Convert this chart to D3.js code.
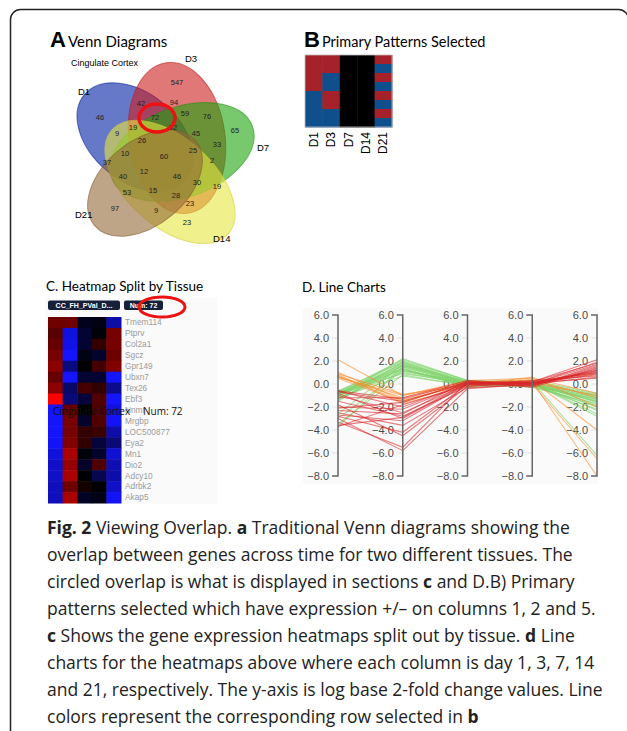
<!DOCTYPE html>
<html>
<head>
<meta charset="utf-8">
<script src="https://cdn.jsdelivr.net/npm/d3@7"></script>
<style>
  body { margin: 0; background: #fff; }
  svg { display: block; }
</style>
</head>
<body>
<svg id="fig" width="627" height="731"></svg>
<script>
// ---- data ----
let days = ["D1", "D3", "D7", "D14", "D21"]
let vennCounts = [547, 42, 94, 72, 59, 76, 65, 46, 9, 19, 52, 45, 33, 26, 10, 60, 25, 2, 37, 12, 46, 30, 19, 40, 53, 15, 28, 23, 97, 9, 23]
// 1 = up, -1 = down, 0 = not used
let patternRows = [
  [1, 1, 0, 0, 1], [1, 1, 0, 0, -1], [1, -1, 0, 0, 1], [1, -1, 0, 0, -1],
  [-1, 1, 0, 0, 1], [-1, 1, 0, 0, -1], [-1, -1, 0, 0, 1], [-1, -1, 0, 0, -1]
]
let genes = ["Tmem114", "Ptprv", "Col2a1", "Sgcz", "Gpr149", "Ubxn7", "Tex26", "Ebf3", "Nnmt", "Mrgbp",
  "LOC500877", "Eya2", "Mn1", "Dio2", "Adcy10", "Adrbk2", "Akap5"]
let heatValues = [
  [1.3, 1.3, -0.3, -0.25, -2.0],
  [1.05, -2.6, -0.6, -0.1, 1.4],
  [1.2, -2.7, -0.6, 0.6, 1.4],
  [1.4, -3.0, -0.25, -0.5, 1.3],
  [1.65, -1.5, 0, 0.8, 1.5],
  [1.2, -3.0, -0.6, -0.6, -3.0],
  [1.65, -1.2, 0.8, 0.6, -1.65],
  [3.0, -1.4, -0.7, 0.95, -3.0],
  [-3.0, 1.2, 0, 0.9, -2.6],
  [-3.0, 1.4, -0.5, 0.95, -2.9],
  [-3.0, 1.4, 0.6, 0.7, -2.0],
  [-2.9, 1.5, 0.6, -0.7, -1.4],
  [-2.6, 2.0, -0.1, -0.5, -2.5],
  [-2.35, 1.75, -0.5, 0.95, -2.1],
  [-2.35, 2.0, 0, -0.95, -2.0],
  [-2.2, 1.3, 0.25, 0, -2.35],
  [-2.2, 2.0, -0.45, -0.25, -2.9]
]
let greenLines = [
  [-0.6, 1.9, 0.2, 0.1, -1.0], [-0.7, 2.1, 0.3, 0.0, -1.2], [-0.8, 1.7, 0.1, -0.1, -1.5],
  [-0.9, 1.5, 0.0, 0.2, -0.9], [-1.0, 1.3, -0.1, 0.1, -1.8], [-1.1, 1.8, 0.2, -0.2, -1.3],
  [-1.2, 1.0, 0.0, 0.0, -2.0], [-0.7, 1.2, -0.2, 0.1, -1.6], [-0.9, 2.0, 0.3, 0.2, -1.1],
  [-1.3, 1.6, 0.1, -0.1, -2.2], [-1.4, 1.4, -0.3, 0.0, -1.4], [-0.8, 0.9, 0.1, 0.3, -0.8],
  [-1.0, 1.1, 0.2, -0.3, -1.7], [-1.5, 1.9, 0.0, 0.1, -2.6], [-0.6, 1.3, -0.1, -0.2, -1.9],
  [-2.6, 1.7, 0.2, 0.0, -1.2], [-3.0, 1.2, 0.1, 0.1, -2.8], [-3.5, 0.8, -0.2, -0.1, -1.5],
  [-3.7, 1.5, 0.0, 0.2, -6.2], [-1.1, 2.2, 0.3, 0.0, -1.0], [-1.2, 0.7, -0.1, 0.1, -2.3],
  [-0.9, 1.6, 0.1, -0.1, -1.3]
]
let redLines = [
  [-0.6, -1.3, 0.2, 0.0, 1.2], [-0.7, -1.5, 0.1, 0.1, 0.8], [-1.0, -2.5, 0.0, -0.2, 1.5],
  [-1.5, -2.8, -0.2, 0.1, 1.0], [-2.0, -2.2, 0.1, 0.2, 1.8], [-2.3, -2.6, 0.3, 0.0, 0.6],
  [-2.5, -3.6, -0.3, -0.1, 1.3], [-2.8, -4.2, 0.0, 0.2, 2.1], [-3.0, -5.8, -0.4, 0.0, 0.9],
  [-3.3, -5.5, 0.2, -0.2, 1.6], [-3.6, -2.9, 0.1, 0.1, 1.1], [-3.7, -1.8, -0.1, 0.3, 0.7],
  [-1.2, -1.2, 0.3, -0.3, 1.4], [-0.8, -3.0, 0.0, 0.0, 1.9], [-1.8, -4.5, -0.2, 0.1, 0.5],
  [-2.1, -1.6, 0.2, -0.1, 1.2], [-0.6, -2.0, 0.1, 0.2, 1.0], [-2.7, -3.2, 0.0, 0.0, 1.7]
]
let orangeLines = [
  [2.1, -1.0, 0.3, 0.5, -0.8], [1.0, -1.4, 0.0, 0.3, -4.0], [0.8, -1.7, -0.2, 0.2, -8.0],
  [0.6, -1.2, 0.1, 0.4, -1.2], [0.5, -1.6, 0.2, 0.0, -6.5], [0.9, -0.9, -0.1, 0.6, -2.0],
  [0.7, -1.5, 0.0, 0.1, -1.0], [0.6, -1.0, 0.2, 0.3, 0.9]
]
let yTicks = [-8, -6, -4, -2, 0, 2, 4, 6]

// ---- venn layout (offsets from the venn centre) ----
let vennShapes = [
  { set: "D1", dx: -29, dy: -18, rx: 66, ry: 44, rot: 40, fill: "#001ea3" },
  { set: "D3", dx: 13, dy: -17, rx: 76, ry: 48, rot: 82, fill: "#cd1e1e" },
  { set: "D7", dx: 18, dy: -3, rx: 75, ry: 45, rot: -20, fill: "#1ea30d" },
  { set: "D14", dx: 6, dy: 27, rx: 78, ry: 44, rot: 42, fill: "#e6e63f" },
  { set: "D21", dx: -19, dy: 28, rx: 66, ry: 42, rot: -40, fill: "#936937" }
]
let vennSetLabelPos = [[-86, -60], [21, -93], [93, -4], [49, 87], [-89, 63]]
let vennCountPos = [[13, -73], [-23, -52], [10, -53], [-9, -38], [21, -42], [43, -39], [71, -25], [-64, -38],
  [-47, -22], [-31, -28], [9, -28], [32, -22], [53, -11], [-22, -15], [-39, -2], [0, 1], [29, -5], [48, 5],
  [-57, 7], [-20, 16], [13, 21], [33, 27], [53, 31], [-41, 21], [-37, 37], [-11, 35], [12, 40], [26, 48],
  [-49, 53], [-8, 55], [23, 67]]

let svg = d3.select("#fig")

// outer frame
svg.append("rect")
  .attr("x", 10.5).attr("y", 9.5).attr("width", 618).attr("height", 760).attr("rx", 10)
  .attr("fill", "none").attr("stroke", "#222").attr("stroke-width", 1.5)

// ---- A: venn ----
let vx = d3.scaleLinear().domain([-100, 100]).range([64, 264])
let vy = d3.scaleLinear().domain([-100, 100]).range([55, 255])

svg.append("text").attr("x", 50).attr("y", 47)
  .style("font", "bold 22px 'Liberation Sans', Arial").text("A")
svg.append("text").attr("x", 68).attr("y", 47)
  .style("font", "15px Lato, 'Open Sans', sans-serif").text("Venn Diagrams")
svg.append("text").attr("x", 71).attr("y", 66)
  .style("font", "9px 'Liberation Sans', Arial").text("Cingulate Cortex")

let venn = svg.append("g")
venn.selectAll("ellipse.set")
  .data(vennShapes)
  .join("ellipse")
  .attr("class", "set")
  .attr("rx", d => d.rx).attr("ry", d => d.ry)
  .attr("transform", d => `translate(${vx(d.dx)},${vy(d.dy)}) rotate(${d.rot})`)
  .attr("fill", d => d.fill).attr("fill-opacity", 0.6)
  .attr("stroke", d => d3.color(d.fill).darker(0.3)).attr("stroke-opacity", 0.6)

venn.selectAll("text.count")
  .data(vennCounts)
  .join("text")
  .attr("class", "count")
  .attr("x", (d, i) => vx(vennCountPos[i][0]))
  .attr("y", (d, i) => vy(vennCountPos[i][1]))
  .attr("text-anchor", "middle").attr("dy", "0.35em")
  .style("font", "7.5px 'Liberation Sans', Arial").attr("fill", "#222")
  .text(d => d)

venn.selectAll("text.setlab")
  .data(days)
  .join("text")
  .attr("class", "setlab")
  .attr("x", (d, i) => vx(vennSetLabelPos[i][0]))
  .attr("y", (d, i) => vy(vennSetLabelPos[i][1]))
  .style("font", "9.5px 'Liberation Sans', Arial")
  .text(d => d)

venn.append("ellipse")
  .attr("cx", vx(-7)).attr("cy", vy(-37)).attr("rx", 18).attr("ry", 14)
  .attr("fill", "none").attr("stroke", "#ee1111").attr("stroke-width", 3.5)

// ---- B: patterns ----
svg.append("text").attr("x", 304).attr("y", 47)
  .style("font", "bold 22px 'Liberation Sans', Arial").text("B")
svg.append("text").attr("x", 322).attr("y", 47)
  .style("font", "14.5px Lato, 'Open Sans', sans-serif").text("Primary Patterns Selected")

let bx = d3.scaleBand().domain(days).range([305, 392])
let by = d3.scaleBand().domain(d3.range(patternRows.length)).range([55, 127])
let patColor = v => v > 0 ? "#a5222a" : v < 0 ? "#0f4f8c" : "#000000"

let gB = svg.append("g")
patternRows.forEach((row, r) => {
  gB.selectAll("rect.r" + r)
    .data(row)
    .join("rect")
    .attr("class", "r" + r)
    .attr("x", (d, i) => bx(days[i]))
    .attr("y", by(r))
    .attr("width", bx.bandwidth() + 0.5)
    .attr("height", by.bandwidth() + 0.5)
    .attr("fill", d => patColor(d))
})
gB.append("rect").attr("x", 305).attr("y", 55).attr("width", 87).attr("height", 72)
  .attr("fill", "none").attr("stroke", "#bbb").attr("stroke-width", 0.8)
gB.selectAll("text.daylab")
  .data(days)
  .join("text")
  .attr("class", "daylab")
  .attr("transform", d => `translate(${bx(d) + bx.bandwidth() / 2 + 4},132) rotate(-90)`)
  .attr("text-anchor", "end")
  .style("font", "12px 'Liberation Sans', Arial")
  .text(d => d)

// ---- C: heatmap ----
svg.append("text").attr("x", 46).attr("y", 291)
  .style("font", "13.5px Lato, 'Open Sans', sans-serif").text("C. Heatmap Split by Tissue")

svg.append("rect").attr("x", 45).attr("y", 298).attr("width", 172).attr("height", 206).attr("fill", "#fafafa")

let hx = d3.scaleBand().domain(days).range([48, 121])
let hy = d3.scaleBand().domain(genes).range([317, 503])
let heatColor = d3.scaleLinear().domain([-3, 0, 3]).range(["#1414ff", "#000000", "#ff0000"]).clamp(true)

let gC = svg.append("g")
heatValues.forEach((row, r) => {
  gC.selectAll("rect.h" + r)
    .data(row)
    .join("rect")
    .attr("class", "h" + r)
    .attr("x", (d, i) => hx(days[i]))
    .attr("y", hy(genes[r]))
    .attr("width", hx.bandwidth() + 0.5)
    .attr("height", hy.bandwidth() + 0.5)
    .attr("fill", d => heatColor(d))
})
gC.selectAll("text.gene")
  .data(genes)
  .join("text")
  .attr("class", "gene")
  .attr("x", 125)
  .attr("y", d => hy(d) + hy.bandwidth() / 2)
  .attr("dy", "0.35em")
  .attr("fill", "#9a9a9a")
  .style("font", "8.3px 'Liberation Sans', Arial")
  .text(d => d)

let headers = [["CC_FH_PVal_D...", 48, 72], ["Num: 72", 124, 39]]
headers.forEach(h => {
  gC.append("rect").attr("x", h[1]).attr("y", 300.5).attr("width", h[2]).attr("height", 9.5)
    .attr("rx", 2).attr("fill", "#17203a")
  gC.append("text").attr("x", h[1] + h[2] / 2).attr("y", 305.5).attr("dy", "0.35em")
    .attr("text-anchor", "middle").attr("fill", "#fff")
    .style("font", "bold 7px 'Liberation Sans', Arial").text(h[0])
})
gC.append("ellipse").attr("cx", 162).attr("cy", 307).attr("rx", 23).attr("ry", 10)
  .attr("fill", "none").attr("stroke", "#ee1111").attr("stroke-width", 3)

// overlay label that sits on top of the heatmap in the original
svg.append("text").attr("x", 53).attr("y", 415)
  .style("font", "10px 'Open Sans', sans-serif").attr("fill", "#111").text("Cingulate Cortex")
svg.append("text").attr("x", 143).attr("y", 415)
  .style("font", "10px 'Open Sans', sans-serif").attr("fill", "#111").text("Num: 72")

// ---- D: line charts ----
svg.append("text").attr("x", 302).attr("y", 292)
  .style("font", "13.5px Lato, 'Open Sans', sans-serif").text("D. Line Charts")

svg.append("rect").attr("x", 303).attr("y", 308).attr("width", 296).attr("height", 176).attr("fill", "#fafafa")

let lx = d3.scalePoint().domain(days).range([338, 597])
let ly = d3.scaleLinear().domain([-8, 6]).range([476, 315])

let gD = svg.append("g")
days.forEach(day => {
  let ax = gD.append("g").attr("transform", `translate(${lx(day)},0)`)
  ax.selectAll("line.tick")
    .data(yTicks.slice(1, -1))
    .join("line")
    .attr("class", "tick")
    .attr("x1", -6).attr("x2", 0)
    .attr("y1", d => ly(d)).attr("y2", d => ly(d))
    .attr("stroke", "#e2e2e2")
  ax.selectAll("text")
    .data(yTicks)
    .join("text")
    .attr("x", -9)
    .attr("y", d => ly(d))
    .attr("dy", "0.35em")
    .attr("text-anchor", "end")
    .attr("fill", "#4a4a4a")
    .style("font", "11px 'Liberation Sans', Arial")
    .text(d => d3.format(".1f")(d))
})

let line = d3.line()
  .x((d, i) => lx(days[i]))
  .y(d => ly(d))

let groups = [[greenLines, "#7fd46c", 0.65], [orangeLines, "#fb8a2c", 0.6], [redLines, "#d8262b", 0.6]]
groups.forEach(g => {
  gD.append("g").selectAll("path")
    .data(g[0])
    .join("path")
    .attr("d", line)
    .attr("fill", "none")
    .attr("stroke", g[1])
    .attr("stroke-opacity", g[2])
    .attr("stroke-width", 1.1)
})

days.forEach(day => {
  let x = lx(day)
  gD.append("path")
    .attr("d", `M${x - 6},${ly(6)}H${x}V${ly(-8)}H${x - 6}`)
    .attr("fill", "none").attr("stroke", "#666").attr("stroke-width", 1.5)
})

// ---- caption ----
let captionLines = [
  [["Fig. 2", true], [" Viewing Overlap. ", false], ["a", true], [" Traditional Venn diagrams showing the", false]],
  [["overlap between genes across time for two different tissues. The", false]],
  [["circled overlap is what is displayed in sections ", false], ["c", true], [" and D.B) Primary", false]],
  [["patterns selected which have expression +/\u2013 on columns 1, 2 and 5.", false]],
  [["c", true], [" Shows the gene expression heatmaps split out by tissue. ", false], ["d", true], [" Line", false]],
  [["charts for the heatmaps above where each column is day 1, 3, 7, 14", false]],
  [["and 21, respectively. The y-axis is log base 2-fold change values. Line", false]],
  [["colors represent the corresponding row selected in ", false], ["b", true]]
]
let cy = d3.scaleLinear().domain([0, 7]).range([534, 723])
let cap = svg.append("g")
  .style("font-family", "'Open Sans', sans-serif")
  .style("font-size", "17.5px")
  .attr("fill", "#222")
captionLines.forEach((parts, i) => {
  let t = cap.append("text").attr("x", 47).attr("y", cy(i)).attr("xml:space", "preserve")
  parts.forEach(p => {
    t.append("tspan").style("font-weight", p[1] ? "bold" : "normal").text(p[0])
  })
})
</script>
</body>
</html>
